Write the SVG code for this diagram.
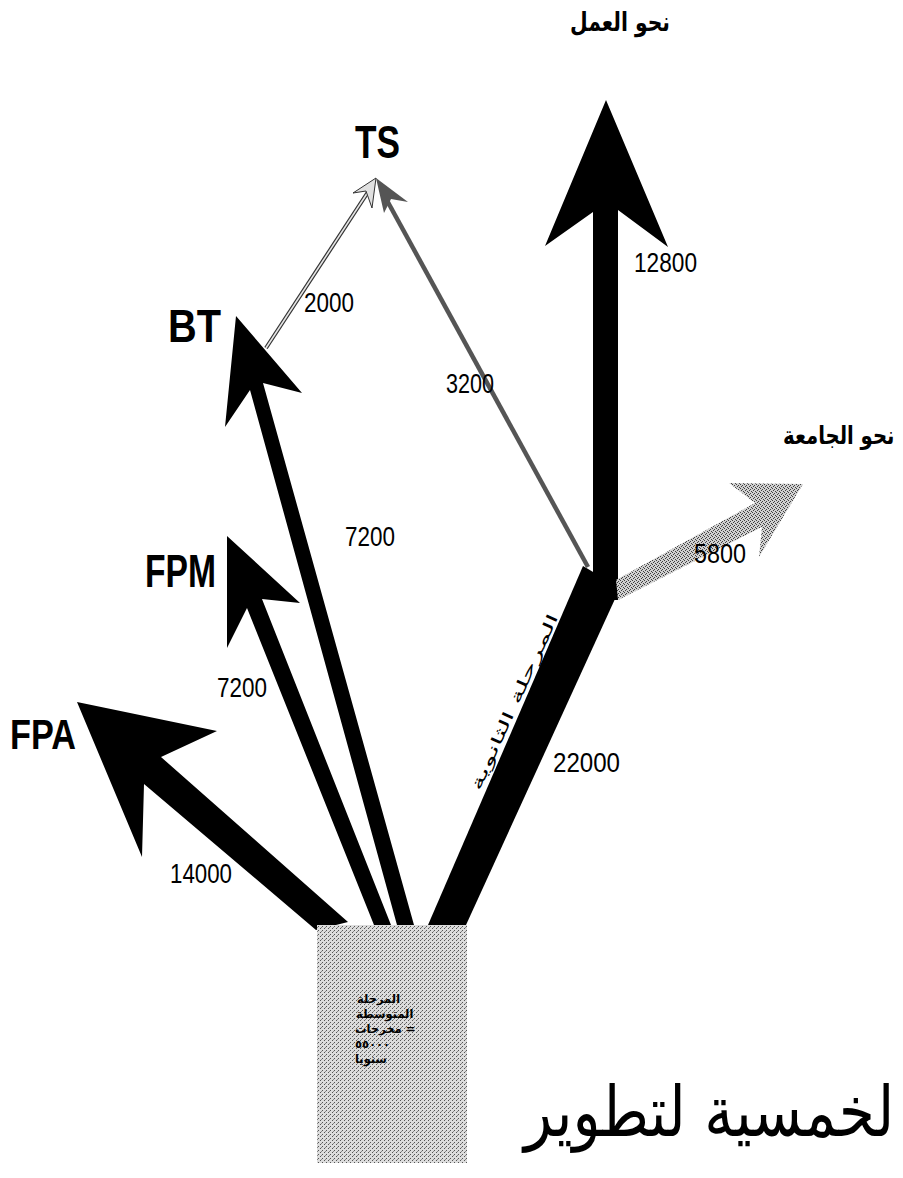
<svg xmlns="http://www.w3.org/2000/svg" width="903" height="1178" viewBox="0 0 903 1178">
<style>
.lbl{font-family:"Liberation Sans",Arial,sans-serif;font-weight:bold;fill:#000}
.num{font-family:"Liberation Sans",Arial,sans-serif;font-size:27px;fill:#000}
.ar{font-family:"DejaVu Sans","Noto Sans",sans-serif;font-weight:bold;fill:#000}
.arn{font-family:"DejaVu Sans","Noto Sans",sans-serif;font-weight:normal;fill:#000}
.blk{fill:#000}
</style>
<defs>
<pattern id="stip" width="4" height="4" patternUnits="userSpaceOnUse">
<rect width="4" height="4" fill="#dcdcdc"/>
<rect x="0" y="0" width="1" height="1" fill="#555"/>
<rect x="2" y="2" width="1" height="1" fill="#555"/>
<rect x="1" y="3" width="1" height="1" fill="#888"/>
</pattern>
<pattern id="stip2" width="4" height="4" patternUnits="userSpaceOnUse">
<rect width="4" height="4" fill="#d0d0d0"/>
<rect x="0" y="0" width="1" height="1" fill="#404040"/>
<rect x="2" y="1" width="1" height="1" fill="#404040"/>
<rect x="1" y="2" width="1" height="1" fill="#404040"/>
<rect x="3" y="3" width="1" height="1" fill="#404040"/>
</pattern>
</defs>
<rect width="903" height="1178" fill="#fff"/>

<g id="connectors">
  <!-- FPA arrow -->
  <polygon class="blk" points="77,702 217,731 161,757 348,922 316,930 144,784 142,857"/>
  <!-- FPM arrow -->
  <polygon class="blk" points="227,536 300,603 262,599 391,925 374,925 247,608 227,648"/>
  <!-- BT arrow -->
  <polygon class="blk" points="236,316 302,393 263,383 414,925 397,925 250,390 225,427"/>
  <!-- main trunk (secondary stage) -->
  <polygon class="blk" points="428,925 583,566 620,588 466,925"/>
  <!-- work arrow -->
  <polygon class="blk" points="606,100 668,247 618,210 618,600 593,600 593,212 545,246"/>
  <!-- university arrow -->
  <polygon fill="url(#stip2)" points="803,484 729,483 755,503 616,580 618,600 762,527 759,557"/>
  <!-- BT to TS line -->
  <line x1="266" y1="348" x2="368" y2="192" stroke="#333" stroke-width="4"/>
  <line x1="266" y1="348" x2="368" y2="192" stroke="#e6e6e6" stroke-width="1.6"/>
  <polygon points="376,178 353,193 366,191 372,208" fill="#e0e0e0" stroke="#333" stroke-width="1"/>
  <!-- junction to TS line -->
  <line x1="588" y1="567" x2="384" y2="195" stroke="#555" stroke-width="4.5"/>
  <polygon points="376,178 408,202 391,199 384,213" fill="#555"/>
</g>

<g id="node-TS"><text class="lbl" x="355" y="158" font-size="46" textLength="45" lengthAdjust="spacingAndGlyphs">TS</text></g>
<g id="node-BT"><text class="lbl" x="168" y="342" font-size="46" textLength="53" lengthAdjust="spacingAndGlyphs">BT</text></g>
<g id="node-FPM"><text class="lbl" x="145" y="587" font-size="47" textLength="71" lengthAdjust="spacingAndGlyphs">FPM</text></g>
<g id="node-FPA"><text class="lbl" x="10" y="749" font-size="42" textLength="66" lengthAdjust="spacingAndGlyphs">FPA</text></g>
<g id="node-work"><text class="ar" x="570" y="31" font-size="26" textLength="100" lengthAdjust="spacingAndGlyphs">نحو العمل</text></g>
<g id="node-university"><text class="ar" font-size="25" transform="translate(783 444) scale(0.786 1)">نحو الجامعة</text></g>

<g id="edge-labels">
  <text class="num" x="634" y="272" textLength="63" lengthAdjust="spacingAndGlyphs">12800</text>
  <text class="num" x="304" y="312" textLength="50" lengthAdjust="spacingAndGlyphs">2000</text>
  <text class="num" x="446" y="393" textLength="48" lengthAdjust="spacingAndGlyphs">3200</text>
  <text class="num" x="345" y="546" textLength="50" lengthAdjust="spacingAndGlyphs">7200</text>
  <text class="num" x="694" y="563" textLength="52" lengthAdjust="spacingAndGlyphs">5800</text>
  <text class="num" x="217" y="697" textLength="50" lengthAdjust="spacingAndGlyphs">7200</text>
  <text class="num" x="553" y="772" textLength="67" lengthAdjust="spacingAndGlyphs">22000</text>
  <text class="num" x="170" y="883" textLength="62" lengthAdjust="spacingAndGlyphs">14000</text>
  <text class="arn" font-size="15" x="519" y="704" text-anchor="middle" textLength="192" lengthAdjust="spacingAndGlyphs" transform="rotate(-65.7 519 704)">المرحلة الثانوية</text>
</g>

<g id="node-middle-stage">
  <rect x="317" y="925" width="150" height="238" fill="url(#stip)"/>
  <text class="ar" font-size="11.5">
    <tspan x="357" y="1003">المرحلة</tspan>
    <tspan x="356" y="1018">المتوسطة</tspan>
    <tspan x="355" y="1033">مخرجات =</tspan>
    <tspan x="355" y="1048">٥٥٠٠٠</tspan>
    <tspan x="355" y="1063">سنويا</tspan>
  </text>
</g>

<g id="node-caption"><text class="arn" font-size="70" transform="translate(524 1136) scale(0.833 1)">لخمسية لتطوير</text></g>
</svg>
